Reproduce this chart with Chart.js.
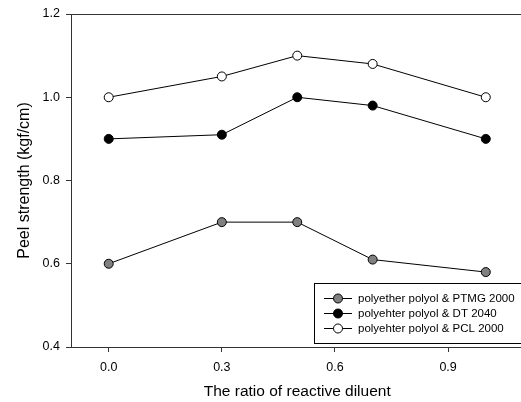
<!DOCTYPE html>
<html>
<head>
<meta charset="utf-8">
<script src="https://cdn.jsdelivr.net/npm/chart.js@4.4.0/dist/chart.umd.min.js"></script>
<style>
  html, body { margin: 0; padding: 0; background: #fff; overflow: hidden; }
  #wrap { width: 529px; height: 402px; }
</style>
</head>
<body>
<div id="wrap"><canvas id="myChart" width="529" height="402"></canvas></div>
<script>
// data
var ratio = [0.0, 0.3, 0.5, 0.7, 1.0];
var ptmg = [0.60, 0.70, 0.70, 0.61, 0.58];
var dt = [0.90, 0.91, 1.00, 0.98, 0.90];
var pcl = [1.00, 1.05, 1.10, 1.08, 1.00];
var xTicks = [0.0, 0.3, 0.6, 0.9];
var yTicks = [0.4, 0.6, 0.8, 1.0, 1.2];

function pts(ys) {
  var out = [];
  for (var i = 0; i < ratio.length; i++) {
    out.push({ x: ratio[i], y: ys[i] });
  }
  return out;
}

function series(label, ys, fill) {
  return {
    label: label,
    data: pts(ys),
    showLine: true,
    borderColor: '#000',
    borderWidth: 1,
    pointRadius: 4.5,
    pointBackgroundColor: fill,
    pointBorderColor: '#000',
    pointBorderWidth: 1
  };
}

var font = "'Liberation Sans', Arial, sans-serif";

// legend box inside the plot, bottom right (runs off the right edge like the original)
var boxLegend = {
  id: 'boxLegend',
  afterDraw: function(chart) {
    var ctx = chart.ctx;
    var x0 = 314, y0 = 283, rowH = 15;
    ctx.save();
    ctx.fillStyle = '#fff';
    ctx.fillRect(x0, y0, 300, 61);
    ctx.strokeStyle = '#000';
    ctx.lineWidth = 1;
    ctx.strokeRect(x0 + 0.5, y0 + 0.5, 300, 60);
    ctx.font = '11.5px ' + font;
    ctx.textBaseline = 'middle';
    chart.data.datasets.forEach(function(ds, i) {
      var y = y0 + 15 + i * rowH;
      ctx.beginPath();
      ctx.moveTo(324, y + 0.5);
      ctx.lineTo(352, y + 0.5);
      ctx.strokeStyle = '#000';
      ctx.stroke();
      ctx.beginPath();
      ctx.arc(338, y + 0.5, 4.5, 0, Math.PI * 2);
      ctx.fillStyle = ds.pointBackgroundColor;
      ctx.fill();
      ctx.stroke();
      ctx.fillStyle = '#000';
      ctx.fillText(ds.label, 358, y + 1);
    });
    ctx.restore();
  }
};

// top frame line
var topLine = {
  id: 'topLine',
  beforeDatasetsDraw: function(chart) {
    var ctx = chart.ctx;
    var a = chart.chartArea;
    ctx.save();
    ctx.strokeStyle = '#333';
    ctx.lineWidth = 1;
    ctx.beginPath();
    ctx.moveTo(a.left, a.top + 0.5);
    ctx.lineTo(a.right, a.top + 0.5);
    ctx.stroke();
    ctx.restore();
  }
};

var myChart = new Chart(document.getElementById('myChart'), {
  type: 'scatter',
  data: {
    datasets: [
      series('polyether polyol & PTMG 2000', ptmg, '#808080'),
      series('polyehter polyol & DT 2040', dt, '#000'),
      series('polyehter polyol & PCL 2000', pcl, '#fff')
    ]
  },
  options: {
    responsive: false,
    animation: false,
    layout: { padding: { top: 14, left: 0, right: 0, bottom: 0 } },
    plugins: {
      legend: { display: false },
      tooltip: { enabled: false }
    },
    scales: {
      x: {
        type: 'linear',
        min: -0.1,
        max: 1.1,
        afterFit: function(s) { s.height = 55; },
        afterBuildTicks: function(s) {
          s.ticks = xTicks.map(function(v) { return { value: v }; });
        },
        grid: { drawOnChartArea: false, drawTicks: true, tickLength: 5, color: '#333' },
        border: { display: true, color: '#333', width: 1 },
        ticks: {
          color: '#000',
          padding: 8,
          maxRotation: 0,
          font: { family: font, size: 12.5 },
          callback: function(v) { return v.toFixed(1); }
        },
        title: {
          display: true,
          text: 'The ratio of reactive diluent',
          color: '#000',
          font: { family: font, size: 15.5 },
          padding: { top: 0, bottom: 1 }
        }
      },
      y: {
        min: 0.4,
        max: 1.2,
        afterFit: function(s) { s.width = 71; },
        afterBuildTicks: function(s) {
          s.ticks = yTicks.map(function(v) { return { value: v }; });
        },
        grid: { drawOnChartArea: false, drawTicks: true, tickLength: 5, color: '#333' },
        border: { display: true, color: '#333', width: 1 },
        ticks: {
          color: '#000',
          padding: 6,
          font: { family: font, size: 12.5 },
          callback: function(v) { return v.toFixed(1); }
        },
        title: {
          display: true,
          text: 'Peel strength (kgf/cm)',
          color: '#000',
          font: { family: font, size: 16 },
          padding: { top: 15, bottom: 0 }
        }
      }
    }
  },
  plugins: [topLine, boxLegend]
});
</script>
</body>
</html>
